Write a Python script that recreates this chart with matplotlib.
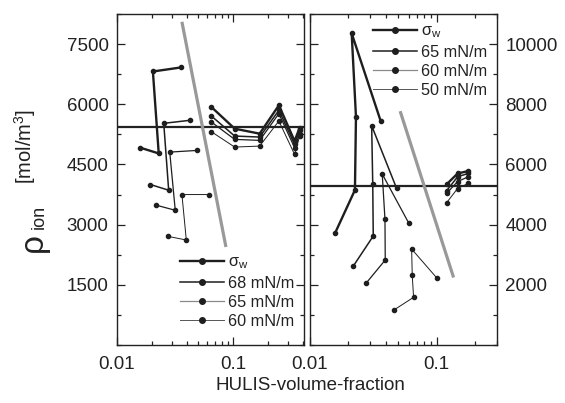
import matplotlib
matplotlib.use("Agg")
import matplotlib.pyplot as plt
from matplotlib.lines import Line2D
from matplotlib.ticker import MultipleLocator, FixedLocator, FuncFormatter, LogLocator, NullFormatter

plt.rcParams['font.family'] = ['Liberation Sans', 'DejaVu Sans']
plt.rcParams['mathtext.fontset'] = 'custom'
plt.rcParams['mathtext.rm'] = 'Liberation Sans'
plt.rcParams['mathtext.it'] = 'Liberation Sans:italic'
plt.rcParams['mathtext.sf'] = 'Liberation Sans'

# ---------------- data: left panel ----------------
left_labels = ["σw", "68 mN/m", "65 mN/m", "60 mN/m"]
# low-fraction group (4 points each)
left_a_x = [
    [0.0159, 0.0229, 0.0204, 0.0354],
    [0.0194, 0.0279, 0.0253, 0.0424],
    [0.0219, 0.0318, 0.0285, 0.0493],
    [0.0275, 0.0396, 0.0363, 0.0621],
]
left_a_y = [
    [4917, 4775, 6817, 6917],
    [4000, 3858, 5525, 5600],
    [3483, 3358, 4808, 4850],
    [2708, 2617, 3750, 3750],
]
# high-fraction group
left_b_x = [0.0651, 0.1035, 0.170, 0.249, 0.340, 0.376]
left_b_y = [
    [5933, 5392, 5267, 5975, 5083, 5417],
    [5708, 5208, 5183, 5850, 5000, 5350],
    [5558, 5125, 5100, 5767, 4917, 5267],
    [5317, 4933, 4958, 5583, 4750, 5208],
]
left_hline = 5430
left_gray_x = [0.0365, 0.0865]
left_gray_y = [8017, 2482]

# ---------------- data: right panel ----------------
right_labels = ["σw", "65 mN/m", "60 mN/m", "50 mN/m"]
right_a_x = [
    [0.01575, 0.02265, 0.02307, 0.02134, 0.0361],
    [0.0220, 0.0316, 0.0313, 0.0307, 0.0483],
    [0.0277, 0.0393, 0.0391, 0.0372, 0.0604],
    [0.0460, 0.0658, 0.0642, 0.0635, 0.1000],
]
right_a_y = [
    [3712, 5151, 7587, 10358, 7453],
    [2625, 3622, 5350, 7287, 5207],
    [2050, 2825, 4177, 5682, 4044],
    [1163, 1585, 2326, 3190, 2236],
]
right_b_x = [0.120, 0.1465, 0.1775]
right_b_y = [
    [5340, 5700, 5780],
    [5128, 5590, 5700],
    [5041, 5430, 5590],
    [4730, 5200, 5370],
]
right_hline = 5280
right_gray_x = [0.052, 0.135]
right_gray_y = [7720, 2293]

# ---------------- styles ----------------
lws = [1.7, 1.1, 0.9, 0.7]
dark = '#1e1e1e'
gray = '#999999'
legend_colors = [dark, dark, '#8a8a8a', '#555555']

W, H = 565, 403
fig = plt.figure(figsize=(W / 100, H / 100), dpi=100)
axL = fig.add_axes([117 / W, (H - 345) / H, 187 / W, 331 / H])
axR = fig.add_axes([310 / W, (H - 345) / H, 187 / W, 331 / H])


def fmt(v, pos):
    return "0.01" if abs(v - 0.01) < 1e-9 else ("0.1" if abs(v - 0.1) < 1e-9 else "")


for ax, xmax, ymax in [(axL, 0.41, 8250), (axR, 0.30, 11000)]:
    ax.set_xscale('log')
    ax.set_xlim(0.01, xmax)
    ax.set_ylim(0, ymax)
    ax.xaxis.set_major_locator(FixedLocator([0.01, 0.1]))
    ax.xaxis.set_major_formatter(FuncFormatter(fmt))
    ax.xaxis.set_minor_locator(LogLocator(base=10, subs=range(2, 10), numticks=20))
    ax.xaxis.set_minor_formatter(NullFormatter())
    ax.tick_params(which='both', direction='in', top=True, right=True, left=True,
                   labelsize=13.5, colors='#222222', width=0.9)
    ax.tick_params(which='major', length=6)
    ax.tick_params(which='minor', length=3)
    for s in ax.spines.values():
        s.set_color('#222222')
        s.set_linewidth(1.0)

axL.yaxis.set_major_locator(FixedLocator([1500, 3000, 4500, 6000, 7500]))
axL.yaxis.set_minor_locator(MultipleLocator(750))
axR.yaxis.set_major_locator(FixedLocator([2000, 4000, 6000, 8000, 10000]))
axR.yaxis.set_minor_locator(MultipleLocator(1000))
axR.tick_params(axis='y', labelleft=False, labelright=True)
axL.tick_params(axis='x', pad=8)
axR.tick_params(axis='x', pad=8)
axL.tick_params(axis='y', pad=6)
axR.tick_params(axis='y', pad=6)

# left panel
for i in range(4):
    axL.plot(left_a_x[i], left_a_y[i], '-o', color=dark, lw=lws[i], ms=3)
    axL.plot(left_b_x, left_b_y[i], '-o', color=dark, lw=lws[i], ms=3)
axL.axhline(left_hline, color='#222222', lw=1.6)
axL.plot(left_gray_x, left_gray_y, color=gray, lw=2.3)

# right panel
for i in range(4):
    axR.plot(right_a_x[i], right_a_y[i], '-o', color=dark, lw=lws[i], ms=3)
    axR.plot(right_b_x, right_b_y[i], '-o', color=dark, lw=lws[i], ms=3)
axR.axhline(right_hline, color='#222222', lw=1.6)
axR.plot(right_gray_x, right_gray_y, color=gray, lw=2.3)


def handles(labels):
    hs = []
    for i, lab in enumerate(labels):
        hs.append(Line2D([], [], color=legend_colors[i], lw=lws[i], marker='o', ms=4,
                         mfc=dark, mec=dark))
    return hs


lab_fmt = lambda labs: ['σ$_{\\rm w}$' if l == 'σw' else l for l in labs]
legL = axL.legend(handles(left_labels), lab_fmt(left_labels), loc='lower right',
                  bbox_to_anchor=(1.0, 0.02), frameon=False, fontsize=11.7,
                  handlelength=2.7, handletextpad=0.25, labelspacing=0.25, borderaxespad=0.2)
legR = axR.legend(handles(right_labels), lab_fmt(right_labels), loc='upper right',
                  bbox_to_anchor=(1.0, 1.0), frameon=False, fontsize=11.7,
                  handlelength=2.7, handletextpad=0.25, labelspacing=0.25, borderaxespad=0.2)
for leg in (legL, legR):
    for t in leg.get_texts():
        t.set_color('#222222')

fig.text(310 / W, 1 - 385 / H, 'HULIS-volume-fraction', ha='center', va='center',
         fontsize=13.5, color='#222222')
fig.text(33 / W, 1 - 243 / H, 'ρ', rotation=90, ha='center', va='center',
         fontsize=24, color='#222222')
fig.text(39 / W, 1 - 217 / H, 'ion', rotation=90, ha='center', va='center',
         fontsize=13, color='#222222')
fig.text(25 / W, 1 - 146 / H, '[mol/m$^3$]', rotation=90, ha='center', va='center',
         fontsize=14.5, color='#222222')

fig.savefig('out.png', dpi=100)
